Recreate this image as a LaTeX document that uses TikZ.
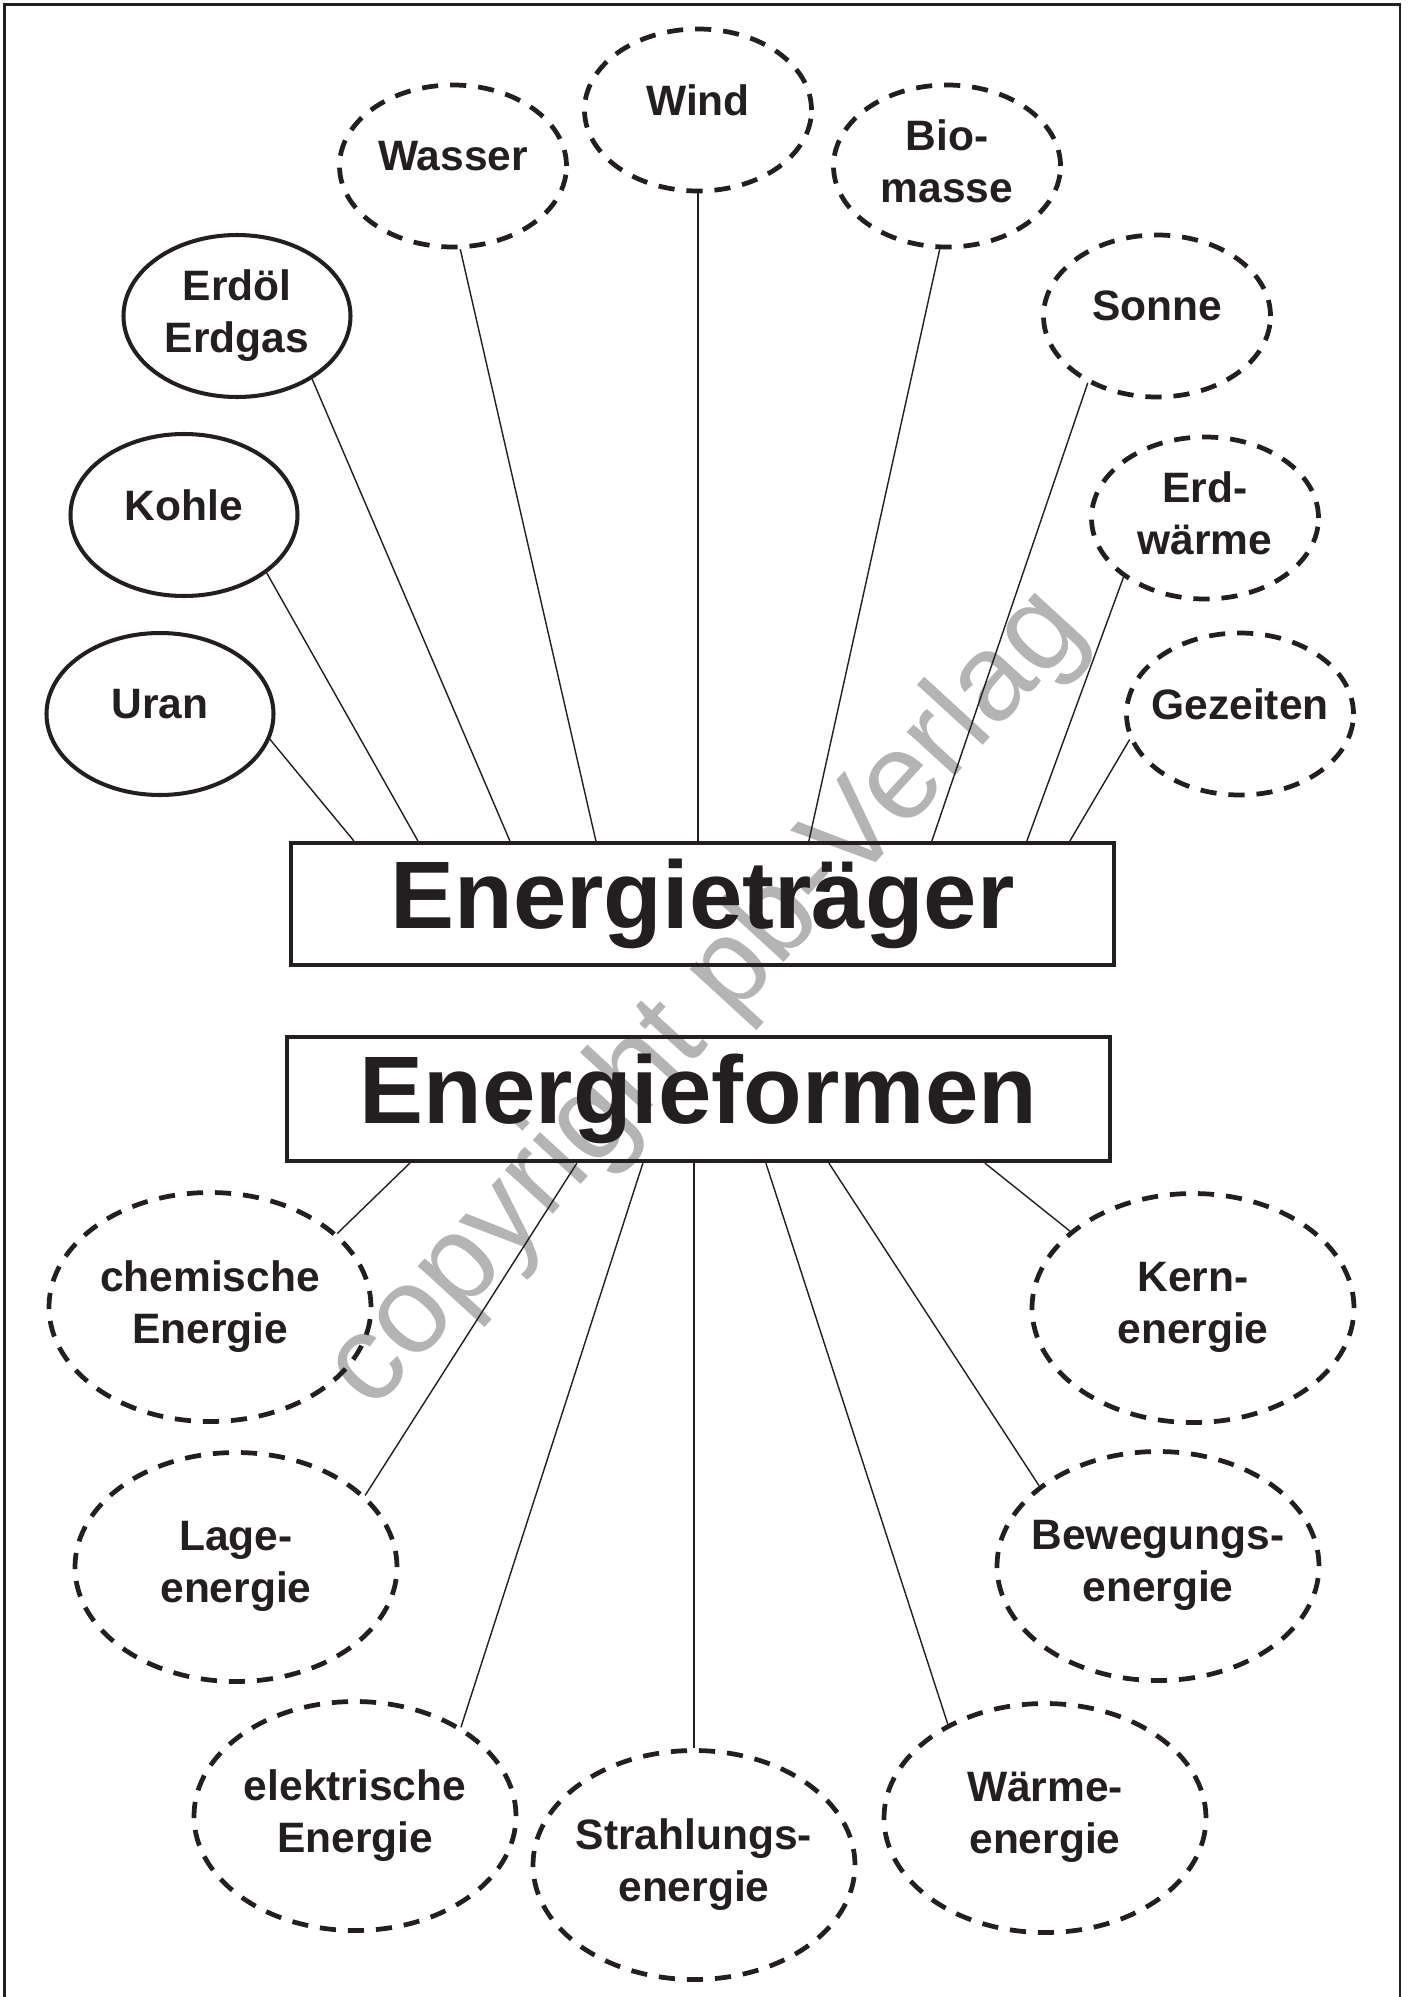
\documentclass[tikz,border=0pt]{standalone}
\usepackage{fontspec}
\setmainfont{Liberation Sans}
\usetikzlibrary{shapes.geometric}
\definecolor{ink}{RGB}{35,31,32}
\definecolor{wmark}{RGB}{180,180,180}

\begin{document}
\begin{tikzpicture}[
    every node/.style={font=\bfseries\fontsize{12.1}{14.8}\selectfont, text=ink, align=center},
    bubble/.style={ellipse, draw=ink, inner xsep=-0.25cm, inner ysep=0pt, text depth=0.2cm},
    twolines/.style={text depth=0.1cm},
    fossil/.style={bubble, line width=1.15pt, minimum width=2.27cm, minimum height=1.62cm},
    renew/.style={bubble, line width=1.35pt, dash pattern=on 4.6pt off 3.4pt, minimum width=2.27cm, minimum height=1.62cm},
    form/.style={bubble, twolines, line width=1.35pt, dash pattern=on 4.6pt off 3.4pt, minimum width=3.22cm, minimum height=2.29cm},
    headbox/.style={draw=ink, line width=1.2pt, minimum width=8.23cm, minimum height=1.22cm, font=\bfseries\fontsize{27.3}{32}\selectfont},
    link/.style={draw=ink, line width=0.4pt}
]
\useasboundingbox (0,0) rectangle (14.1,-19.97);
% watermark behind everything
\node[font=\fontsize{35}{42}\selectfont, text=wmark, rotate=47.5] (wm) at (7.07,-10.0) {copyright pb-Verlag};
\draw[ink, line width=0.8pt] (0.045,-19.97) -- (0.045,-0.045) -- (14.0,-0.045) -- (14.0,-19.97);

% the two headings
\node[headbox] (traeger) at (7.025,-9.04) {Energieträger};
\node[headbox, minimum height=1.24cm] (formen) at (6.985,-10.99) {Energieformen};

% Energietraeger
\node[fossil] (uran) at (1.60,-7.14) {Uran};
\node[fossil] (kohle) at (1.84,-5.15) {Kohle};
\node[fossil, twolines] (erdoel) at (2.37,-3.16) {Erdöl\\Erdgas};
\node[renew] (wasser) at (4.53,-1.66) {Wasser};
\node[renew] (wind) at (6.98,-1.10) {Wind};
\node[renew, twolines] (biomasse) at (9.47,-1.66) {Bio-\\masse};
\node[renew] (sonne) at (11.57,-3.16) {Sonne};
\node[renew, twolines] (erdwaerme) at (12.05,-5.18) {Erd-\\wärme};
\node[renew] (gezeiten) at (12.40,-7.14) {Gezeiten};

\draw[link] (uran.-13) -- ([xshift=0.65cm]traeger.north west);
\draw[link] (kohle.-35) -- ([xshift=1.29cm]traeger.north west);
\draw[link] (erdoel.-40) -- ([xshift=2.21cm]traeger.north west);
\draw[link] (wasser.-85) -- ([xshift=3.07cm]traeger.north west);
\draw[link] (wind.south) -- (wind.south |- traeger.north);
\draw[link] (biomasse.-95) -- ([xshift=5.20cm]traeger.north west);
\draw[link] (sonne.-136) -- ([xshift=6.43cm]traeger.north west);
\draw[link] (erdwaerme.-144) -- ([xshift=7.38cm]traeger.north west);
\draw[link] (gezeiten.-167) -- ([xshift=7.81cm]traeger.north west);

% Energieformen
\node[form] (chemisch) at (2.10,-13.07) {chemische\\Energie};
\node[form] (lage) at (2.36,-15.67) {Lage-\\energie};
\node[form] (elektrisch) at (3.55,-18.16) {elektrische\\Energie};
\node[form] (strahlung) at (6.94,-18.65) {Strahlungs-\\energie};
\node[form] (waerme) at (10.45,-18.18) {Wärme-\\energie};
\node[form] (bewegung) at (11.58,-15.66) {Bewegungs-\\energie};
\node[form] (kern) at (11.93,-13.08) {Kern-\\energie};

\draw[link] ([xshift=1.25cm]formen.south west) -- (chemisch.30);
\draw[link] ([xshift=2.92cm]formen.south west) -- (lage.29);
\draw[link] ([xshift=3.58cm]formen.south west) -- (elektrisch.40);
\draw[link] (strahlung.north) -- (strahlung.north |- formen.south);
\draw[link] ([xshift=4.81cm]formen.south west) -- (waerme.136);
\draw[link] ([xshift=5.44cm]formen.south west) -- (bewegung.146);
\draw[link] ([xshift=7.00cm]formen.south west) -- (kern.148);
\end{tikzpicture}
\end{document}
